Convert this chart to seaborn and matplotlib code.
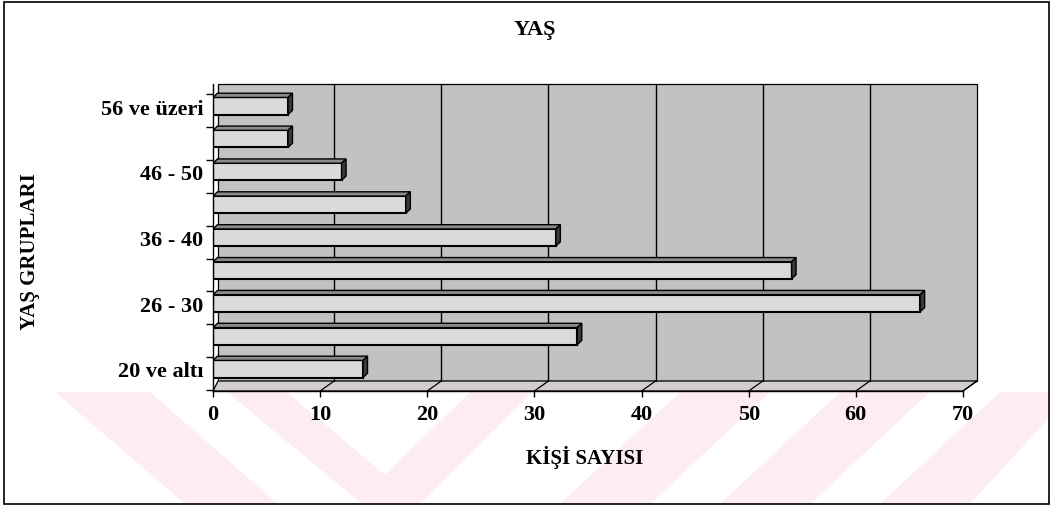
import matplotlib
matplotlib.use("Agg")
import matplotlib.pyplot as plt
import matplotlib.patches as mpatches
import matplotlib.transforms as mtransforms
import seaborn as sns
import pandas as pd

categories = ["20 ve altı", "21 - 25", "26 - 30", "31 - 35", "36 - 40",
              "41 - 45", "46 - 50", "51 - 55", "56 ve üzeri"]
values = [14, 34, 66, 54, 32, 18, 12, 7, 7]
shown_labels = ["20 ve altı", "26 - 30", "36 - 40", "46 - 50", "56 ve üzeri"]
x_ticks = [0, 10, 20, 30, 40, 50, 60, 70]

title = "YAŞ"
xlabel = "KİŞİ SAYISI"
ylabel = "YAŞ GRUPLARI"

sns.set_style("white")
plt.rcParams["font.family"] = ["Liberation Serif", "DejaVu Serif"]
plt.rcParams["font.weight"] = "bold"
plt.rcParams["text.color"] = "black"
plt.rcParams["axes.labelcolor"] = "black"
plt.rcParams["xtick.color"] = "black"
plt.rcParams["ytick.color"] = "black"

df = pd.DataFrame({"grup": categories, "sayi": values})
order = categories[::-1]  # top to bottom

W, H = 1057, 510
fig = plt.figure(figsize=(W / 100, H / 100), dpi=100)


def fx(px):
    return px / W


def fy(py):
    return 1 - py / H


# axes: front floor edge at y=392px, wall top at 85px, x 0..70 over 213..963px
ax = fig.add_axes([fx(213), fy(392), fx(963) - fx(213), fy(85) - fy(392)])
ax.patch.set_visible(False)

sns.barplot(data=df, y="grup", x="sayi", order=order, orient="h",
            color="#dadada", edgecolor="black", linewidth=1.5,
            width=0.52, saturation=1, ax=ax, zorder=3)
bars = list(ax.patches)

ax.set_xlim(0, 70)
ax.set_ylim(len(categories) - 1 + 0.67, -0.67)

# depth in data units (~4px)
dx, dy = 0.42, 0.13
for p in bars:
    x0, y0 = p.get_x(), p.get_y()
    w, h = p.get_width(), p.get_height()
    top_face = mpatches.Polygon([(x0, y0), (x0 + dx, y0 - dy),
                                 (x0 + w + dx, y0 - dy), (x0 + w, y0)],
                                closed=True, facecolor="#8a8a8a",
                                edgecolor="black", linewidth=1.0, zorder=3)
    cap = mpatches.Polygon([(x0 + w, y0), (x0 + w + dx, y0 - dy),
                            (x0 + w + dx, y0 + h - dy), (x0 + w, y0 + h)],
                           closed=True, facecolor="#3a3a3a",
                           edgecolor="black", linewidth=1.0, zorder=3)
    ax.add_patch(top_face)
    ax.add_patch(cap)

# back wall and floor
wall_y0 = 10 / 307
wall = mpatches.Rectangle((5 / 750, wall_y0), 759 / 750, 1 - wall_y0,
                          transform=ax.transAxes, facecolor="#c2c2c2",
                          edgecolor="black", linewidth=0.9, zorder=0.2,
                          clip_on=False)
ax.add_patch(wall)
floor = mpatches.Polygon([(0, 0), (1, 0), (1 + 14 / 750, wall_y0),
                          (5 / 750, wall_y0)], closed=True,
                         transform=ax.transAxes, facecolor="#d3cdcd",
                         edgecolor="black", linewidth=0.9, zorder=0.3,
                         clip_on=False)
ax.add_patch(floor)

# back-wall grid lines (offset to the back of the box)
off = mtransforms.ScaledTranslation(0.14, 0, fig.dpi_scale_trans)
for t in x_ticks[1:-1]:
    ax.plot([t, t], [wall_y0, 1], color="black", linewidth=1.0, zorder=0.5,
            transform=ax.get_xaxis_transform() + off, clip_on=False)

# floor depth lines at each tick
y0_disp = ax.transAxes.transform((0, 0))[1]
k = 1.4
shear = mtransforms.Affine2D.from_values(1, 0, k, 1, -k * y0_disp, 0)
for t in x_ticks[1:]:
    ax.plot([t, t], [0, wall_y0], color="black", linewidth=0.9, zorder=0.6,
            transform=ax.get_xaxis_transform() + shear, clip_on=False)

ax.set_xticks(x_ticks)
ax.set_xticklabels([str(t) for t in x_ticks], fontsize=16, fontweight="bold")
ypos = [order.index(c) for c in shown_labels]
ax.set_yticks(ypos)
ax.set_yticklabels(shown_labels, fontsize=16, fontweight="bold")
ax.set_yticks([i + 0.5 + 0.14 for i in range(-1, len(categories))], minor=True)
ax.tick_params(axis="y", which="major", length=0, pad=7)
ax.tick_params(axis="y", which="minor", length=5, width=1, left=True)
ax.tick_params(axis="x", length=4, width=1, bottom=True, pad=5)

for s in ["top", "right"]:
    ax.spines[s].set_visible(False)
for s in ["left", "bottom"]:
    ax.spines[s].set_color("black")
    ax.spines[s].set_linewidth(1.0)
    ax.spines[s].set_zorder(4)

ax.set_xlabel("")
ax.set_ylabel("")
fig.text(fx(585), fy(458), xlabel, ha="center", va="center",
         fontsize=15, fontweight="bold")
fig.text(fx(30), fy(252), ylabel, rotation=90, ha="center", va="center",
         fontsize=15, fontweight="bold")
fig.text(fx(535), fy(30), title, ha="center", va="center", fontsize=16,
         fontweight="bold")

# faint watermark stripes at the bottom
pink = "#fdedf0"
stripes = [
    [(55, 393), (150, 393), (278, 505), (185, 505)],
    [(227, 393), (287, 393), (385, 476), (470, 393), (533, 393),
     (420, 505), (362, 505)],
    [(680, 393), (770, 393), (650, 505), (560, 505)],
    [(840, 393), (930, 393), (810, 505), (720, 505)],
    [(1000, 393), (1048, 393), (1048, 420), (970, 505), (880, 505)],
]
for poly in stripes:
    fig.patches.append(mpatches.Polygon([(fx(a), fy(b)) for a, b in poly],
                                        closed=True, transform=fig.transFigure,
                                        facecolor=pink, edgecolor="none",
                                        zorder=-1))

# outer frame
fig.patches.append(mpatches.Rectangle((fx(4), fy(505)), fx(1049) - fx(4),
                                      fy(3) - fy(505),
                                      transform=fig.transFigure, fill=False,
                                      edgecolor="black", linewidth=1.2))

fig.savefig("out.png", dpi=100)
